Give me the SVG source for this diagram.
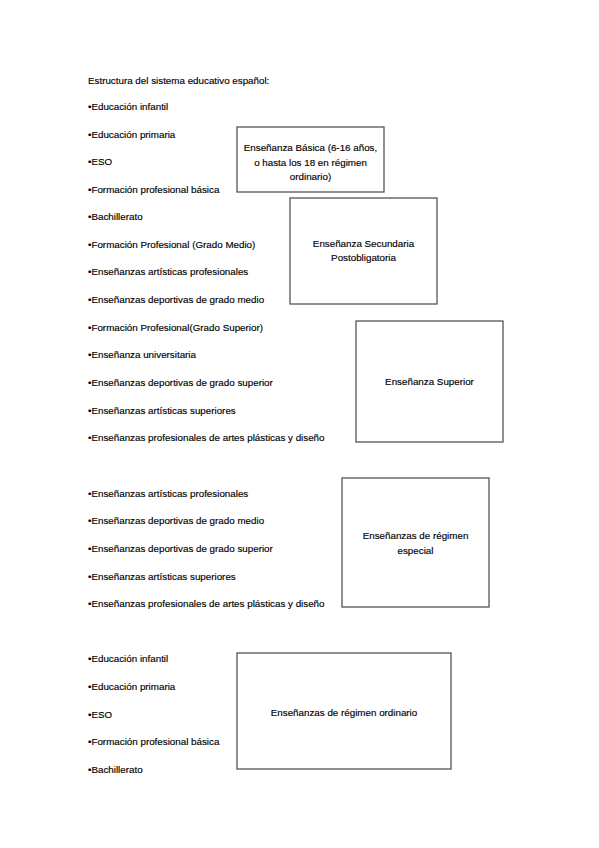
<svg xmlns="http://www.w3.org/2000/svg" width="599" height="848" viewBox="0 0 599 848">
<style>
text{font-family:"Liberation Sans",Arial,sans-serif;font-size:9.8px;fill:#000;stroke:#000;stroke-width:0.15}
.c{text-anchor:middle}
rect{fill:#fff;stroke:#555;stroke-width:1.3}
</style>
<rect x="0" y="0" width="599" height="848" style="stroke:none"/>
<g id="lists">
<text x="88" y="84">Estructura del sistema educativo español:</text>
<text x="88" y="110">•Educación infantil</text>
<text x="88" y="138">•Educación primaria</text>
<text x="88" y="165">•ESO</text>
<text x="88" y="193">•Formación profesional básica</text>
<text x="88" y="220">•Bachillerato</text>
<text x="88" y="248">•Formación Profesional (Grado Medio)</text>
<text x="88" y="275">•Enseñanzas artísticas profesionales</text>
<text x="88" y="303">•Enseñanzas deportivas de grado medio</text>
<text x="88" y="331">•Formación Profesional(Grado Superior)</text>
<text x="88" y="358">•Enseñanza universitaria</text>
<text x="88" y="386">•Enseñanzas deportivas de grado superior</text>
<text x="88" y="414">•Enseñanzas artísticas superiores</text>
<text x="88" y="441">•Enseñanzas profesionales de artes plásticas y diseño</text>
<text x="88" y="497">•Enseñanzas artísticas profesionales</text>
<text x="88" y="524">•Enseñanzas deportivas de grado medio</text>
<text x="88" y="552">•Enseñanzas deportivas de grado superior</text>
<text x="88" y="580">•Enseñanzas artísticas superiores</text>
<text x="88" y="607">•Enseñanzas profesionales de artes plásticas y diseño</text>
<text x="88" y="662">•Educación infantil</text>
<text x="88" y="690">•Educación primaria</text>
<text x="88" y="718">•ESO</text>
<text x="88" y="745">•Formación profesional básica</text>
<text x="88" y="773">•Bachillerato</text>
</g>
<g id="connectors"></g>
<g id="basica">
<rect x="237" y="127" width="147" height="65"/>
<text class="c" x="310.5" y="151">Enseñanza Básica (6-16 años,</text>
<text class="c" x="310.5" y="166">o hasta los 18 en régimen</text>
<text class="c" x="310.5" y="180">ordinario)</text>
</g>
<g id="secundaria">
<rect x="290" y="198" width="147" height="106"/>
<text class="c" x="363.5" y="247">Enseñanza Secundaria</text>
<text class="c" x="363.5" y="261">Postobligatoria</text>
</g>
<g id="superior">
<rect x="356" y="321" width="147" height="121"/>
<text class="c" x="429.5" y="385">Enseñanza Superior</text>
</g>
<g id="especial">
<rect x="342" y="478" width="147" height="129"/>
<text class="c" x="415.5" y="539">Enseñanzas de régimen</text>
<text class="c" x="415.5" y="554">especial</text>
</g>
<g id="ordinario">
<rect x="237" y="653" width="214" height="116"/>
<text class="c" x="344" y="716">Enseñanzas de régimen ordinario</text>
</g>
</svg>
